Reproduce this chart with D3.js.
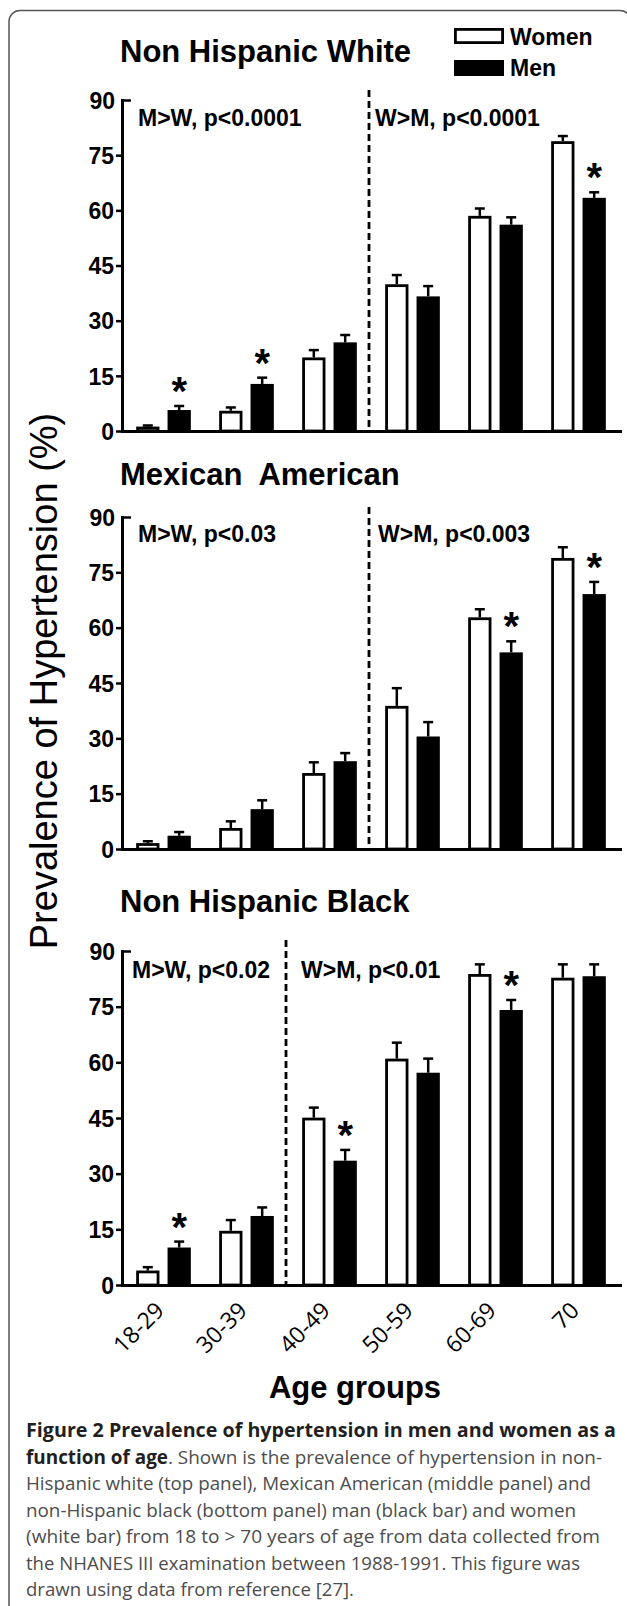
<!DOCTYPE html>
<html><head><meta charset="utf-8">
<script src="https://cdn.jsdelivr.net/npm/d3@7"></script>
<style>body{margin:0;background:#fff}</style>
</head><body>
<script>
// ---------- data ----------
const ageGroups = ["18-29", "30-39", "40-49", "50-59", "60-69", "70"];
const sexes = ["Women", "Men"];
const yTicks = [0, 15, 30, 45, 60, 75, 90];
const panelTitles = ["Non Hispanic White", "Mexican  American", "Non Hispanic Black"];

const nhwWomen    = [1.2, 5.5, 20.0, 39.9, 58.5, 78.8];
const nhwWomenErr = [0.3, 0.9, 2.0, 2.5, 2.0, 1.4];
const nhwMen      = [5.7, 12.8, 24.1, 36.6, 56.1, 63.4];
const nhwMenErr   = [1.1, 1.7, 2.0, 2.8, 2.0, 1.5];
const nhwStars    = ["18-29", "30-39", "70"];
const nhwNotes    = ["M>W, p<0.0001", "W>M, p<0.0001"];

const maWomen     = [1.6, 5.7, 20.6, 38.8, 62.8, 78.9];
const maWomenErr  = [0.5, 1.8, 2.9, 4.8, 2.2, 2.9];
const maMen       = [3.6, 10.8, 23.8, 30.5, 53.3, 69.1];
const maMenErr    = [1.0, 2.4, 2.2, 3.9, 3.0, 3.3];
const maStars     = ["60-69", "70"];
const maNotes     = ["M>W, p<0.03", "W>M, p<0.003"];

const nhbWomen    = [3.9, 14.6, 45.1, 61.0, 83.8, 82.8];
const nhbWomenErr = [0.9, 2.9, 2.7, 4.3, 2.6, 3.6];
const nhbMen      = [10.1, 18.6, 33.5, 57.2, 74.1, 83.2];
const nhbMenErr   = [1.6, 2.3, 2.9, 3.8, 2.7, 3.2];
const nhbStars    = ["18-29", "40-49", "60-69"];
const nhbNotes    = ["M>W, p<0.02", "W>M, p<0.01"];

const yAxisTitle = "Prevalence of Hypertension (%)";
const xAxisTitle = "Age groups";
const captionLines = [
  [["Figure 2 Prevalence of hypertension in men and women as a", true]],
  [["function of age", true], [". Shown is the prevalence of hypertension in non-", false]],
  [["Hispanic white (top panel), Mexican American (middle panel) and", false]],
  [["non-Hispanic black (bottom panel) man (black bar) and women", false]],
  [["(white bar) from 18 to > 70 years of age from data collected from", false]],
  [["the NHANES III examination between 1988-1991. This figure was", false]],
  [["drawn using data from reference [27].", false]]
];

// ---------- layout ----------
const W = 627, H = 1606;
const BOLD = "'Liberation Sans', Arial, sans-serif";
const OPEN = "'Open Sans', 'DejaVu Sans', sans-serif";

const svg = d3.select("body").append("svg").attr("width", W).attr("height", H);

svg.append("rect").attr("x", 9).attr("y", 10.5).attr("width", 622).attr("height", 1640)
  .attr("rx", 11).attr("fill", "none").attr("stroke", "#555").attr("stroke-width", 1.5);

const x0 = d3.scaleBand().domain(ageGroups).range([122, 620]);
const x1 = d3.scaleBand().domain(sexes).range([0, x0.bandwidth()])
  .paddingInner(0.258).paddingOuter(0.4516);

const panels = [
  {title: panelTitles[0], women: nhwWomen, wErr: nhwWomenErr, men: nhwMen, mErr: nhwMenErr,
   stars: nhwStars, notes: nhwNotes, top: 100, base: 431, titleY: 62, noteY: 126,
   noteX: [138, 375], div: 3, divTop: 90, labels: false},
  {title: panelTitles[1], women: maWomen, wErr: maWomenErr, men: maMen, mErr: maMenErr,
   stars: maStars, notes: maNotes, top: 517, base: 849, titleY: 485, noteY: 542,
   noteX: [138, 378], div: 3, divTop: 507, labels: false},
  {title: panelTitles[2], women: nhbWomen, wErr: nhbWomenErr, men: nhbMen, mErr: nhbMenErr,
   stars: nhbStars, notes: nhbNotes, top: 951, base: 1285, titleY: 912, noteY: 978,
   noteX: [132, 301], div: 2, divTop: 940, labels: true}
];

panels.forEach(p => {
  const y = d3.scaleLinear().domain([0, 90]).range([p.base, p.top]);
  const g = svg.append("g");

  g.append("text").attr("x", 120).attr("y", p.titleY).text(p.title)
    .attr("font-family", BOLD).attr("font-weight", "bold").attr("font-size", 31)
    .style("white-space", "pre").attr("fill", "#000");

  // divider
  g.append("line")
    .attr("x1", x0(ageGroups[p.div]) - 2).attr("x2", x0(ageGroups[p.div]) - 2)
    .attr("y1", p.divTop).attr("y2", p.base)
    .attr("stroke", "#000").attr("stroke-width", 2.8).attr("stroke-dasharray", "7,4");

  // notes
  g.selectAll("text.note").data(p.notes).join("text").attr("class", "note")
    .attr("x", (d, i) => p.noteX[i]).attr("y", p.noteY).text(d => d)
    .attr("font-family", BOLD).attr("font-weight", "bold").attr("font-size", 23);

  const rows = [];
  ageGroups.forEach((a, i) => {
    rows.push({a, s: "Women", v: p.women[i], e: p.wErr[i]});
    rows.push({a, s: "Men", v: p.men[i], e: p.mErr[i]});
  });
  const cx = d => x0(d.a) + x1(d.s) + x1.bandwidth() / 2;

  // error bars
  g.selectAll("line.eb").data(rows).join("line").attr("class", "eb")
    .attr("x1", cx).attr("x2", cx)
    .attr("y1", d => y(d.v)).attr("y2", d => y(d.v + d.e))
    .attr("stroke", "#000").attr("stroke-width", 2.5);
  g.selectAll("line.cap").data(rows).join("line").attr("class", "cap")
    .attr("x1", d => cx(d) - 5).attr("x2", d => cx(d) + 5)
    .attr("y1", d => y(d.v + d.e)).attr("y2", d => y(d.v + d.e))
    .attr("stroke", "#000").attr("stroke-width", 2.5);

  // bars
  g.selectAll("rect.bar").data(rows).join("rect").attr("class", "bar")
    .attr("x", d => x0(d.a) + x1(d.s) + (d.s === "Women" ? 1.4 : 0))
    .attr("width", d => x1.bandwidth() - (d.s === "Women" ? 2.8 : 0))
    .attr("y", d => y(d.v) + (d.s === "Women" ? 1.4 : 0))
    .attr("height", d => Math.max(0, p.base - y(d.v) - (d.s === "Women" ? 1.4 : 0)))
    .attr("fill", d => d.s === "Women" ? "#fff" : "#000")
    .attr("stroke", d => d.s === "Women" ? "#000" : "none")
    .attr("stroke-width", 2.8);

  // stars
  g.selectAll("text.star").data(rows.filter(d => d.s === "Men" && p.stars.includes(d.a)))
    .join("text").attr("class", "star")
    .attr("x", cx).attr("y", d => y(d.v + d.e) - 1).attr("text-anchor", "middle")
    .attr("font-family", BOLD).attr("font-weight", "bold").attr("font-size", 40).text("*");

  // y axis
  const ya = g.append("g").attr("transform", "translate(122,0)")
    .call(d3.axisLeft(y).tickValues(yTicks).tickSize(6).tickSizeOuter(0).tickPadding(2));
  ya.select(".domain").attr("stroke-width", 3).attr("stroke-linecap", "square");
  ya.selectAll(".tick line").attr("stroke-width", 2.5)
    .attr("x1", d => d === 90 ? -1 : 0).attr("x2", d => d === 90 ? 9 : -6);
  ya.selectAll(".tick text").attr("font-family", BOLD).attr("font-weight", "bold")
    .attr("font-size", 23).attr("fill", "#000").attr("dy", "0.36em")
    .attr("x", d => d === 90 ? -7 : -8);

  // x axis
  const xa = g.append("g").attr("transform", `translate(0,${p.base})`)
    .call(d3.axisBottom(x0).tickSize(0).tickSizeOuter(0).tickFormat(p.labels ? d => d : () => ""));
  xa.select(".domain").attr("stroke-width", 3).attr("stroke-linecap", "square");
  xa.selectAll(".tick text").attr("x", 0).attr("y", 0).attr("dy", 0)
    .attr("transform", "translate(2,27) rotate(-45)").attr("text-anchor", "end")
    .attr("font-family", OPEN).attr("font-size", 23).attr("fill", "#000");
});

// legend
svg.append("rect").attr("x", 455.4).attr("y", 29.4).attr("width", 47.2).attr("height", 13.2)
  .attr("fill", "#fff").attr("stroke", "#000").attr("stroke-width", 2.8);
svg.append("rect").attr("x", 454).attr("y", 60).attr("width", 50).attr("height", 16).attr("fill", "#000");
svg.selectAll("text.leg").data(sexes).join("text").attr("class", "leg")
  .attr("x", 510).attr("y", (d, i) => i === 0 ? 45 : 76).text(d => d)
  .attr("font-family", BOLD).attr("font-weight", "bold").attr("font-size", 23);

// axis titles
svg.append("text").attr("transform", "translate(57,681) rotate(-90)").attr("text-anchor", "middle")
  .attr("font-family", BOLD).attr("font-size", 38).attr("fill", "#000").text(yAxisTitle);
svg.append("text").attr("x", 355).attr("y", 1398).attr("text-anchor", "middle")
  .attr("font-family", BOLD).attr("font-weight", "bold").attr("font-size", 31).text(xAxisTitle);

// caption
const capEnds = [616, 602, 591, 576, 600, 580, 354];
captionLines.forEach((segs, i) => {
  const t = svg.append("text").attr("x", 26).attr("y", 1437 + i * 26.5)
    .attr("font-family", OPEN).attr("font-size", 19)
    .attr("textLength", capEnds[i] - 26).attr("lengthAdjust", "spacingAndGlyphs")
    .style("white-space", "pre");
  segs.forEach(([txt, b]) => {
    t.append("tspan").text(txt).attr("font-weight", b ? "bold" : "normal")
      .attr("fill", b ? "#231f20" : "#4d4d4d");
  });
});
</script>
</body></html>
